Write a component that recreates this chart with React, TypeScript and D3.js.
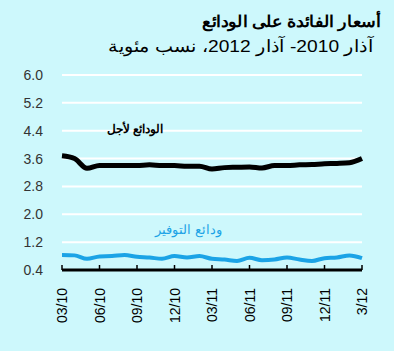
import React from "react";
import * as d3 from "d3";

const months = d3.range(25);
const xTickLabels = ["03/10", "06/10", "09/10", "12/10", "03/11", "06/11", "09/11", "12/11", "3/12"];
const yTicks = [0.4, 1.2, 2.0, 2.8, 3.6, 4.4, 5.2, 6.0];
const timeDeposits = [3.68, 3.6, 3.32, 3.4, 3.4, 3.4, 3.4, 3.42, 3.4, 3.4, 3.38, 3.38, 3.3, 3.34, 3.35, 3.36, 3.33, 3.4, 3.4, 3.42, 3.43, 3.45, 3.46, 3.48, 3.6];
const savingsDeposits = [0.83, 0.82, 0.72, 0.79, 0.8, 0.83, 0.78, 0.76, 0.72, 0.8, 0.76, 0.8, 0.72, 0.7, 0.66, 0.75, 0.68, 0.7, 0.76, 0.7, 0.66, 0.74, 0.76, 0.82, 0.74];
const title = "أسعار الفائدة على الودائع";
const subtitle = "آذار 2010- آذار 2012، نسب مئوية";
const timeLabel = "الودائع لأجل";
const savingsLabel = "ودائع التوفير";

export default function App() {
  const W = 394, H = 351;
  const x = d3.scaleLinear().domain([0, 24]).range([62, 362]);
  const y = d3.scaleLinear().domain([0.4, 6.0]).range([270, 75]);
  const line = d3.line<number>().x((_, i) => x(i)).y((d) => y(d)).curve(d3.curveMonotoneX);
  const font = "'Liberation Sans', Arial, sans-serif";
  return (
    <svg width={W} height={H} style={{ position: "absolute", left: 0, top: 0 }}>
      <rect width={W} height={H} fill="#cdf8fc" />
      <text x={202} y={27} textAnchor="start" fontFamily={font} fontWeight="bold" fontSize={16} fill="#000" direction="ltr" textLength={178} lengthAdjust="spacingAndGlyphs" style={{ unicodeBidi: "plaintext" } as any}>{title}</text>
      <text transform="translate(373,52) scale(1.13,1)" x={0} y={0} textAnchor="start" fontFamily={font} fontSize={17} fill="#000" direction="rtl">{subtitle}</text>
      {yTicks.map((t) => (
        <g key={t}>
          {t > 0.4 && <line x1={62} x2={362} y1={y(t)} y2={y(t)} stroke="#fff" strokeWidth={2} />}
          <text x={43} y={y(t) + 5} textAnchor="end" fontFamily={font} fontSize={14} fill="#333">{t.toFixed(1)}</text>
        </g>
      ))}
      <path d={line(timeDeposits) || ""} fill="none" stroke="#000" strokeWidth={5} strokeLinejoin="round" />
      <path d={line(savingsDeposits) || ""} fill="none" stroke="#1ba3e6" strokeWidth={4} strokeLinejoin="round" />
      <line x1={62} x2={362} y1={270} y2={270} stroke="#000" strokeWidth={3} />
      {xTickLabels.map((l, i) => (
        <g key={l}>
          <line x1={x(i * 3)} x2={x(i * 3)} y1={270} y2={265} stroke="#000" strokeWidth={1.5} />
          <text transform={`translate(${x(i * 3) + 5},288) rotate(-90)`} textAnchor="end" fontFamily={font} fontSize={14} fill="#000">{l}</text>
        </g>
      ))}
      <text x={163} y={133} textAnchor="start" fontFamily={font} fontWeight="bold" fontSize={12} fill="#000" direction="rtl">{timeLabel}</text>
      <text x={222} y={234} textAnchor="start" fontFamily={font} fontSize={13} fill="#1ba3e6" direction="rtl">{savingsLabel}</text>
    </svg>
  );
}
